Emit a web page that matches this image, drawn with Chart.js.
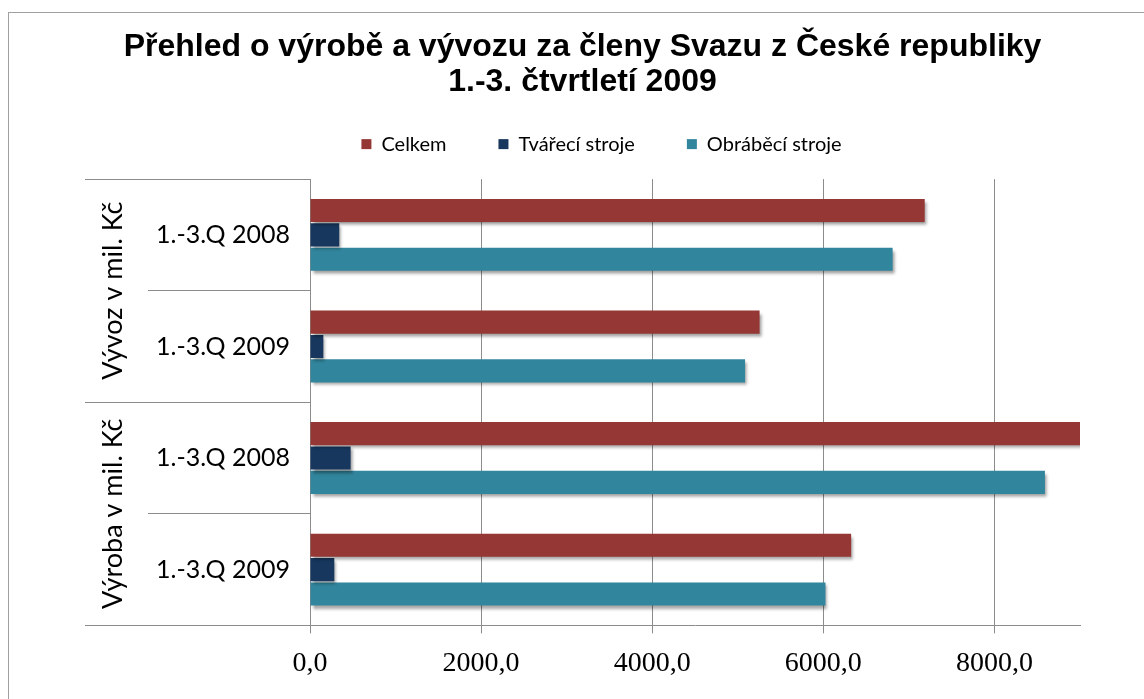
<!DOCTYPE html>
<html>
<head>
<meta charset="utf-8">
<script src="https://cdn.jsdelivr.net/npm/chart.js@4.4.1/dist/chart.umd.min.js"></script>
<style>
  html, body { margin: 0; padding: 0; background: #fff; overflow: hidden; }
  #frame { position: absolute; left: 8px; top: 12px; width: 1200px; height: 800px;
           border-left: 1px solid #a0a0a0; border-top: 1px solid #a0a0a0; }
  #wrap { position: absolute; left: 9px; top: 13px; width: 1135px; height: 686px; }
</style>
</head>
<body>
<div id="frame"></div>
<div id="wrap"><canvas id="c"></canvas></div>
<script>
/* data */
const categories = ["1.-3.Q 2008", "1.-3.Q 2009", "1.-3.Q 2008", "1.-3.Q 2009"];
const groups = ["Vývoz v mil. Kč", "Výroba v mil. Kč"];
const seriesNames = ["Celkem", "Tvářecí stroje", "Obráběcí stroje"];
const celkem = [7185, 5255, 9120, 6325];
const tvareci = [342, 156, 475, 284];
const obrabeci = [6810, 5085, 8590, 6025];
const xTicks = [0, 2000, 4000, 6000, 8000];
const xMax = 9000;

const colors = ["#953735", "#17375E", "#31859C"];
const GRID = "#8c8c8c";

// Excel-like drop shadow under the bars
const barShadow = {
  id: "barShadow",
  beforeDatasetsDraw(chart) {
    const c = chart.ctx;
    c.save();
    c.shadowColor = "rgba(0,0,0,0.38)";
    c.shadowBlur = 3;
    c.shadowOffsetX = 2;
    c.shadowOffsetY = 3;
  },
  afterDatasetsDraw(chart) { chart.ctx.restore(); },
};

// rotated group labels, centred on the outer category axis
const groupLabels = {
  id: "groupLabels",
  afterDraw(chart) {
    const s = chart.scales.group, c = chart.ctx;
    c.save();
    c.font = "27px Lato";
    c.fillStyle = "#000";
    c.textAlign = "center";
    c.textBaseline = "middle";
    groups.forEach((g, i) => {
      c.save();
      c.translate(s.left + 28, s.getPixelForTick(i));
      c.rotate(-Math.PI / 2);
      c.fillText(g, 0, 0);
      c.restore();
    });
    c.restore();
  },
};

// legend in the reference sits a bit right of the title and higher
const legendNudge = {
  id: "legendNudge",
  afterLayout(chart) {
    const l = chart.legend;
    l.left += 19; l.right += 19;
    l.top -= 17; l.bottom -= 17;
  },
};

new Chart(document.getElementById("c"), {
  type: "bar",
  data: {
    labels: categories,
    datasets: [
      { label: seriesNames[0], data: celkem, backgroundColor: colors[0] },
      { label: seriesNames[1], data: tvareci, backgroundColor: colors[1] },
      { label: seriesNames[2], data: obrabeci, backgroundColor: colors[2] },
    ],
  },
  options: {
    indexAxis: "y",
    responsive: true, maintainAspectRatio: false, animation: false,
    devicePixelRatio: 1,
    datasets: { bar: { categoryPercentage: 0.655, barPercentage: 0.95, borderWidth: 0 } },
    layout: { padding: { left: 76, right: 64, top: 0, bottom: 6 } },
    plugins: {
      title: {
        display: true,
        text: ["Přehled o výrobě a vývozu za členy Svazu z České republiky", "1.-3. čtvrtletí 2009"],
        color: "#000",
        font: { family: "Liberation Sans", size: 32, weight: "bold", lineHeight: 1.08 },
        padding: { top: 17, bottom: 0 },
      },
      legend: {
        position: "top", maxHeight: 80,
        labels: { color: "#000", font: { family: "Lato", size: 20 }, boxWidth: 10, boxHeight: 10, padding: 52 },
      },
      tooltip: { enabled: false },
    },
    scales: {
      x: {
        min: 0, max: xMax,
        afterBuildTicks(s) { s.ticks = xTicks.map(v => ({ value: v })); },
        ticks: {
          padding: 13, color: "#000",
          font: { family: "Liberation Serif", size: 28 },
          callback: v => v.toFixed(1).replace(".", ","),
        },
        grid: { color: GRID, tickColor: GRID, tickLength: 8 },
        border: { display: true, color: GRID },
      },
      y: {
        type: "category", position: "left", offset: true,
        ticks: { mirror: true, padding: -154, color: "#000", font: { family: "Lato", size: 25 } },
        grid: { offset: true, drawOnChartArea: false, color: GRID, tickColor: GRID, tickLength: 162 },
        border: { display: true, color: GRID },
        afterFit(s) { s.width = 162; },
      },
      group: {
        type: "category", axis: "y", position: "left", weight: 1, offset: true,
        labels: groups,
        ticks: { display: false },
        grid: { offset: true, drawOnChartArea: false, color: GRID, tickColor: GRID, tickLength: 63 },
        border: { display: false },
        afterFit(s) { s.width = 63; },
      },
    },
  },
  plugins: [barShadow, groupLabels, legendNudge],
});
</script>
</body>
</html>
